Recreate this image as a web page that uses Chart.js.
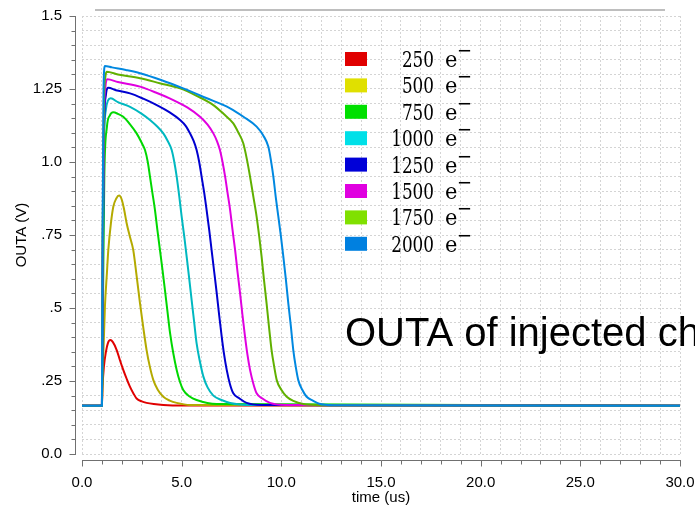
<!DOCTYPE html>
<html>
<head>
<meta charset="utf-8">
<script src="https://cdn.jsdelivr.net/npm/chart.js@4.4.0/dist/chart.umd.min.js"></script>
<style>
  body { margin: 0; background: #fff; }
  canvas { display: block; }
</style>
</head>
<body>
<canvas id="outa" width="695" height="508"></canvas>
<script>
// injected charge cases (electrons)
const chargeLabels = ['250', '500', '750', '1000', '1250', '1500', '1750', '2000']
const lineColors = ['#e00000', '#b4aa00', '#00d800', '#00b8c0', '#0000d0', '#e000e0', '#60b000', '#0088e0']
const boxColors = ['#e00000', '#e0e000', '#00e000', '#00e0e8', '#0000d8', '#e000e0', '#80e000', '#0080e0']

const xTickLabels = ['0.0', '5.0', '10.0', '15.0', '20.0', '25.0', '30.0']
const yTickLabels = ['0.0', '.25', '.5', '.75', '1.0', '1.25', '1.5']

// time (us) / OUTA (V)
const t250 = [0, 1.0, 1.03, 1.1, 1.2, 1.3, 1.42, 1.55, 1.74, 1.9, 2.07, 2.25, 2.41, 2.6, 2.74, 3.0, 3.24, 3.6, 4.08, 5.0, 30]
const v250 = [.165, .165, .23, .30, .35, .38, .39, .383, .356, .322, .288, .256, .23, .205, .19, .18, .175, .171, .168, .166, .165]

const t500 = [0, 1.0, 1.05, 1.15, 1.25, 1.32, 1.45, 1.57, 1.72, 1.86, 2.0, 2.12, 2.24, 2.4, 2.57, 2.74, 2.91, 3.08, 3.24, 3.4, 3.58, 3.8, 4.08, 4.4, 4.75, 5.42, 30]
const v500 = [.165, .165, .30, .504, .62, .699, .79, .847, .875, .885, .87, .835, .79, .745, .699, .61, .516, .43, .356, .30, .253, .22, .196, .183, .175, .168, .165]

const t750 = [0, 1.0, 1.05, 1.12, 1.25, 1.4, 1.57, 1.8, 2.07, 2.4, 2.74, 3.0, 3.16, 3.3, 3.41, 3.53, 3.66, 3.78, 3.91, 4.04, 4.16, 4.29, 4.42, 4.58, 4.75, 4.9, 5.08, 5.4, 5.75, 6.76, 30]
const v750 = [.165, .165, .50, .95, 1.12, 1.16, 1.17, 1.165, 1.155, 1.13, 1.098, 1.065, 1.041, 1.0, .95, .895, .836, .768, .699, .63, .562, .487, .413, .345, .288, .25, .219, .197, .185, .171, .165]

const t1000 = [0, 1.0, 1.04, 1.1, 1.2, 1.3, 1.44, 1.8, 2.41, 3.0, 3.41, 3.8, 4.08, 4.3, 4.5, 4.63, 4.75, 4.88, 5.0, 5.13, 5.25, 5.38, 5.5, 5.63, 5.75, 5.92, 6.09, 6.3, 6.59, 7.0, 7.43, 8.5, 30]
const v1000 = [.165, .165, .55, 1.05, 1.18, 1.21, 1.218, 1.205, 1.189, 1.165, 1.144, 1.12, 1.098, 1.072, 1.041, 1.0, .95, .882, .813, .745, .676, .60, .527, .45, .379, .315, .265, .228, .20, .185, .175, .168, .165]

const t1250 = [0, 1.0, 1.04, 1.1, 1.2, 1.32, 1.7, 2.41, 3.1, 3.75, 4.4, 4.92, 5.2, 5.42, 5.6, 5.75, 5.88, 6.0, 6.13, 6.25, 6.38, 6.5, 6.63, 6.76, 6.88, 7.01, 7.13, 7.26, 7.42, 7.59, 7.9, 8.26, 9.0, 30]
const v1250 = [.165, .165, .6, 1.1, 1.23, 1.254, 1.246, 1.235, 1.216, 1.195, 1.17, 1.144, 1.124, 1.098, 1.072, 1.041, 1.0, .95, .895, .836, .768, .699, .625, .55, .476, .401, .34, .288, .24, .208, .19, .175, .168, .165]

const t1500 = [0, 1.0, 1.03, 1.1, 1.18, 1.27, 1.8, 2.91, 3.7, 4.58, 5.3, 5.92, 6.3, 6.59, 6.78, 6.92, 7.05, 7.18, 7.3, 7.43, 7.55, 7.68, 7.8, 7.93, 8.05, 8.18, 8.3, 8.43, 8.6, 8.76, 9.05, 9.43, 10.2, 30]
const v1500 = [.165, .165, .65, 1.15, 1.26, 1.283, 1.274, 1.258, 1.238, 1.212, 1.186, 1.155, 1.128, 1.098, 1.07, 1.041, 1.0, .95, .895, .836, .768, .699, .625, .55, .476, .401, .34, .288, .24, .208, .19, .175, .168, .165]

const t1750 = [0, 1.0, 1.03, 1.1, 1.17, 1.24, 1.8, 2.91, 3.9, 4.92, 5.8, 6.59, 7.1, 7.59, 7.85, 8.09, 8.27, 8.43, 8.6, 8.76, 8.89, 9.01, 9.13, 9.26, 9.38, 9.51, 9.64, 9.77, 10.0, 10.27, 10.6, 11.1, 12.0, 30]
const v1750 = [.165, .165, .7, 1.2, 1.29, 1.309, 1.30, 1.287, 1.27, 1.252, 1.225, 1.195, 1.165, 1.132, 1.1, 1.064, 1.01, .95, .88, .813, .745, .676, .596, .516, .436, .356, .30, .253, .22, .196, .182, .171, .167, .165]

const t2000 = [0, 1.0, 1.03, 1.08, 1.15, 1.5, 2.2, 2.91, 4.0, 5.08, 6.2, 7.43, 8.1, 8.76, 9.1, 9.35, 9.48, 9.6, 9.72, 9.85, 9.98, 10.1, 10.23, 10.35, 10.48, 10.6, 10.72, 10.85, 11.05, 11.27, 11.6, 11.9, 12.6, 30]
const v2000 = [.165, .165, .75, 1.25, 1.329, 1.324, 1.315, 1.304, 1.28, 1.252, 1.22, 1.184, 1.155, 1.121, 1.09, 1.052, 1.005, .95, .88, .813, .745, .676, .596, .516, .436, .356, .30, .253, .22, .196, .182, .172, .167, .165]

const seriesTimes = [t250, t500, t750, t1000, t1250, t1500, t1750, t2000]
const seriesValues = [v250, v500, v750, v1000, v1250, v1500, v1750, v2000]

const tickFont = { family: 'Liberation Sans', size: 15 }
const gridColor = '#d4d4d4'
const axisColor = '#707070'

// axes sit a few px outside the plot area, drawn by hand
const offsetAxes = {
    id: 'offsetAxes',
    afterDraw(chart) {
        const { ctx, chartArea, scales } = chart
        ctx.save()
        ctx.strokeStyle = axisColor
        ctx.lineWidth = 1

        const ax = Math.round(chartArea.left) - 7 + 0.5
        ctx.beginPath()
        ctx.moveTo(ax, chartArea.top)
        ctx.lineTo(ax, chartArea.bottom + 1)
        scales.y.ticks.forEach(t => {
            const py = Math.round(scales.y.getPixelForValue(t.value)) + 0.5
            ctx.moveTo(ax - (t.label !== '' ? 6 : 4), py)
            ctx.lineTo(ax, py)
        })
        const ay = Math.round(chartArea.bottom) + 6 + 0.5
        ctx.moveTo(chartArea.left, ay)
        ctx.lineTo(chartArea.right + 1, ay)
        scales.x.ticks.forEach(t => {
            const px = Math.round(scales.x.getPixelForValue(t.value)) + 0.5
            ctx.moveTo(px, ay)
            ctx.lineTo(px, ay + (t.label !== '' ? 6 : 4))
        })
        ctx.stroke()

        // rule above the plot
        ctx.strokeStyle = '#a8a8a8'
        ctx.lineWidth = 1.5
        ctx.beginPath()
        ctx.moveTo(95, 10)
        ctx.lineTo(665, 10)
        ctx.stroke()
        ctx.restore()
    }
}

const boxLegend = {
    id: 'boxLegend',
    afterDraw(chart) {
        const { ctx } = chart
        ctx.save()
        ctx.font = '20px "DejaVu Serif"'
        ctx.textBaseline = 'alphabetic'
        chargeLabels.forEach((label, i) => {
            const top = 52 + i * 26.4
            ctx.fillStyle = boxColors[i]
            ctx.fillRect(345, top, 22, 14)
            ctx.fillStyle = '#000'

            ctx.save()
            ctx.translate(434, top + 15)
            ctx.scale(0.84, 1.15)
            ctx.textAlign = 'right'
            ctx.fillText(label, 0, 0)
            ctx.restore()

            ctx.save()
            ctx.translate(445, top + 15)
            ctx.scale(1.05, 1.15)
            ctx.textAlign = 'left'
            ctx.fillText('e', 0, 0)
            ctx.restore()

            ctx.save()
            ctx.translate(457, top + 5)
            ctx.scale(0.9, 1)
            ctx.textAlign = 'left'
            ctx.fillText('\u2212', 0, 0)
            ctx.restore()
        })
        ctx.font = '40px "Liberation Sans"'
        ctx.textAlign = 'left'
        ctx.fillText('OUTA of injected charge', 345, 346)
        ctx.restore()
    }
}

const ctx = document.getElementById('outa').getContext('2d')
const outaChart = new Chart(ctx, {
    type: 'line',
    data: {
        datasets: chargeLabels.map((label, i) => ({
            label: label + ' e\u207B',
            data: seriesTimes[i].map((t, j) => ({ x: t, y: seriesValues[i][j] })),
            borderColor: lineColors[i],
            order: chargeLabels.length - 1 - i
        }))
    },
    options: {
        responsive: false,
        animation: false,
        devicePixelRatio: 1,
        layout: { padding: { left: 0, right: 15, top: 16, bottom: 0 } },
        elements: {
            point: { radius: 0 },
            line: { borderWidth: 2, cubicInterpolationMode: 'monotone' }
        },
        plugins: {
            legend: { display: false },
            tooltip: { enabled: false }
        },
        scales: {
            x: {
                type: 'linear',
                min: 0,
                max: 30,
                afterFit: s => {
                    s.height = 54
                    s.paddingLeft = 0
                    s.paddingRight = 0
                },
                ticks: {
                    stepSize: 1,
                    autoSkip: false,
                    maxRotation: 0,
                    padding: 20,
                    color: '#000',
                    font: tickFont,
                    callback: v => {
                        const k = Math.round(v / 5)
                        return Math.abs(v - k * 5) < 1e-6 ? xTickLabels[k] : ''
                    }
                },
                grid: { color: gridColor, drawTicks: false },
                border: { display: false, dash: [2, 2] },
                title: { display: true, text: 'time (us)', color: '#000', font: tickFont, padding: 1 }
            },
            y: {
                min: 0,
                max: 1.5,
                afterFit: s => {
                    s.width = 82
                    s.paddingTop = 0
                    s.paddingBottom = 0
                },
                ticks: {
                    stepSize: 0.05,
                    autoSkip: false,
                    padding: 20,
                    color: '#000',
                    font: tickFont,
                    callback: v => {
                        const k = Math.round(v / 0.25)
                        return Math.abs(v - k * 0.25) < 1e-6 ? yTickLabels[k] : ''
                    }
                },
                grid: { color: gridColor, drawTicks: false },
                border: { display: false, dash: [2, 2] },
                title: { display: true, text: 'OUTA (V)', color: '#000', font: tickFont, padding: 13 }
            }
        }
    },
    plugins: [offsetAxes, boxLegend]
})
</script>
</body>
</html>
